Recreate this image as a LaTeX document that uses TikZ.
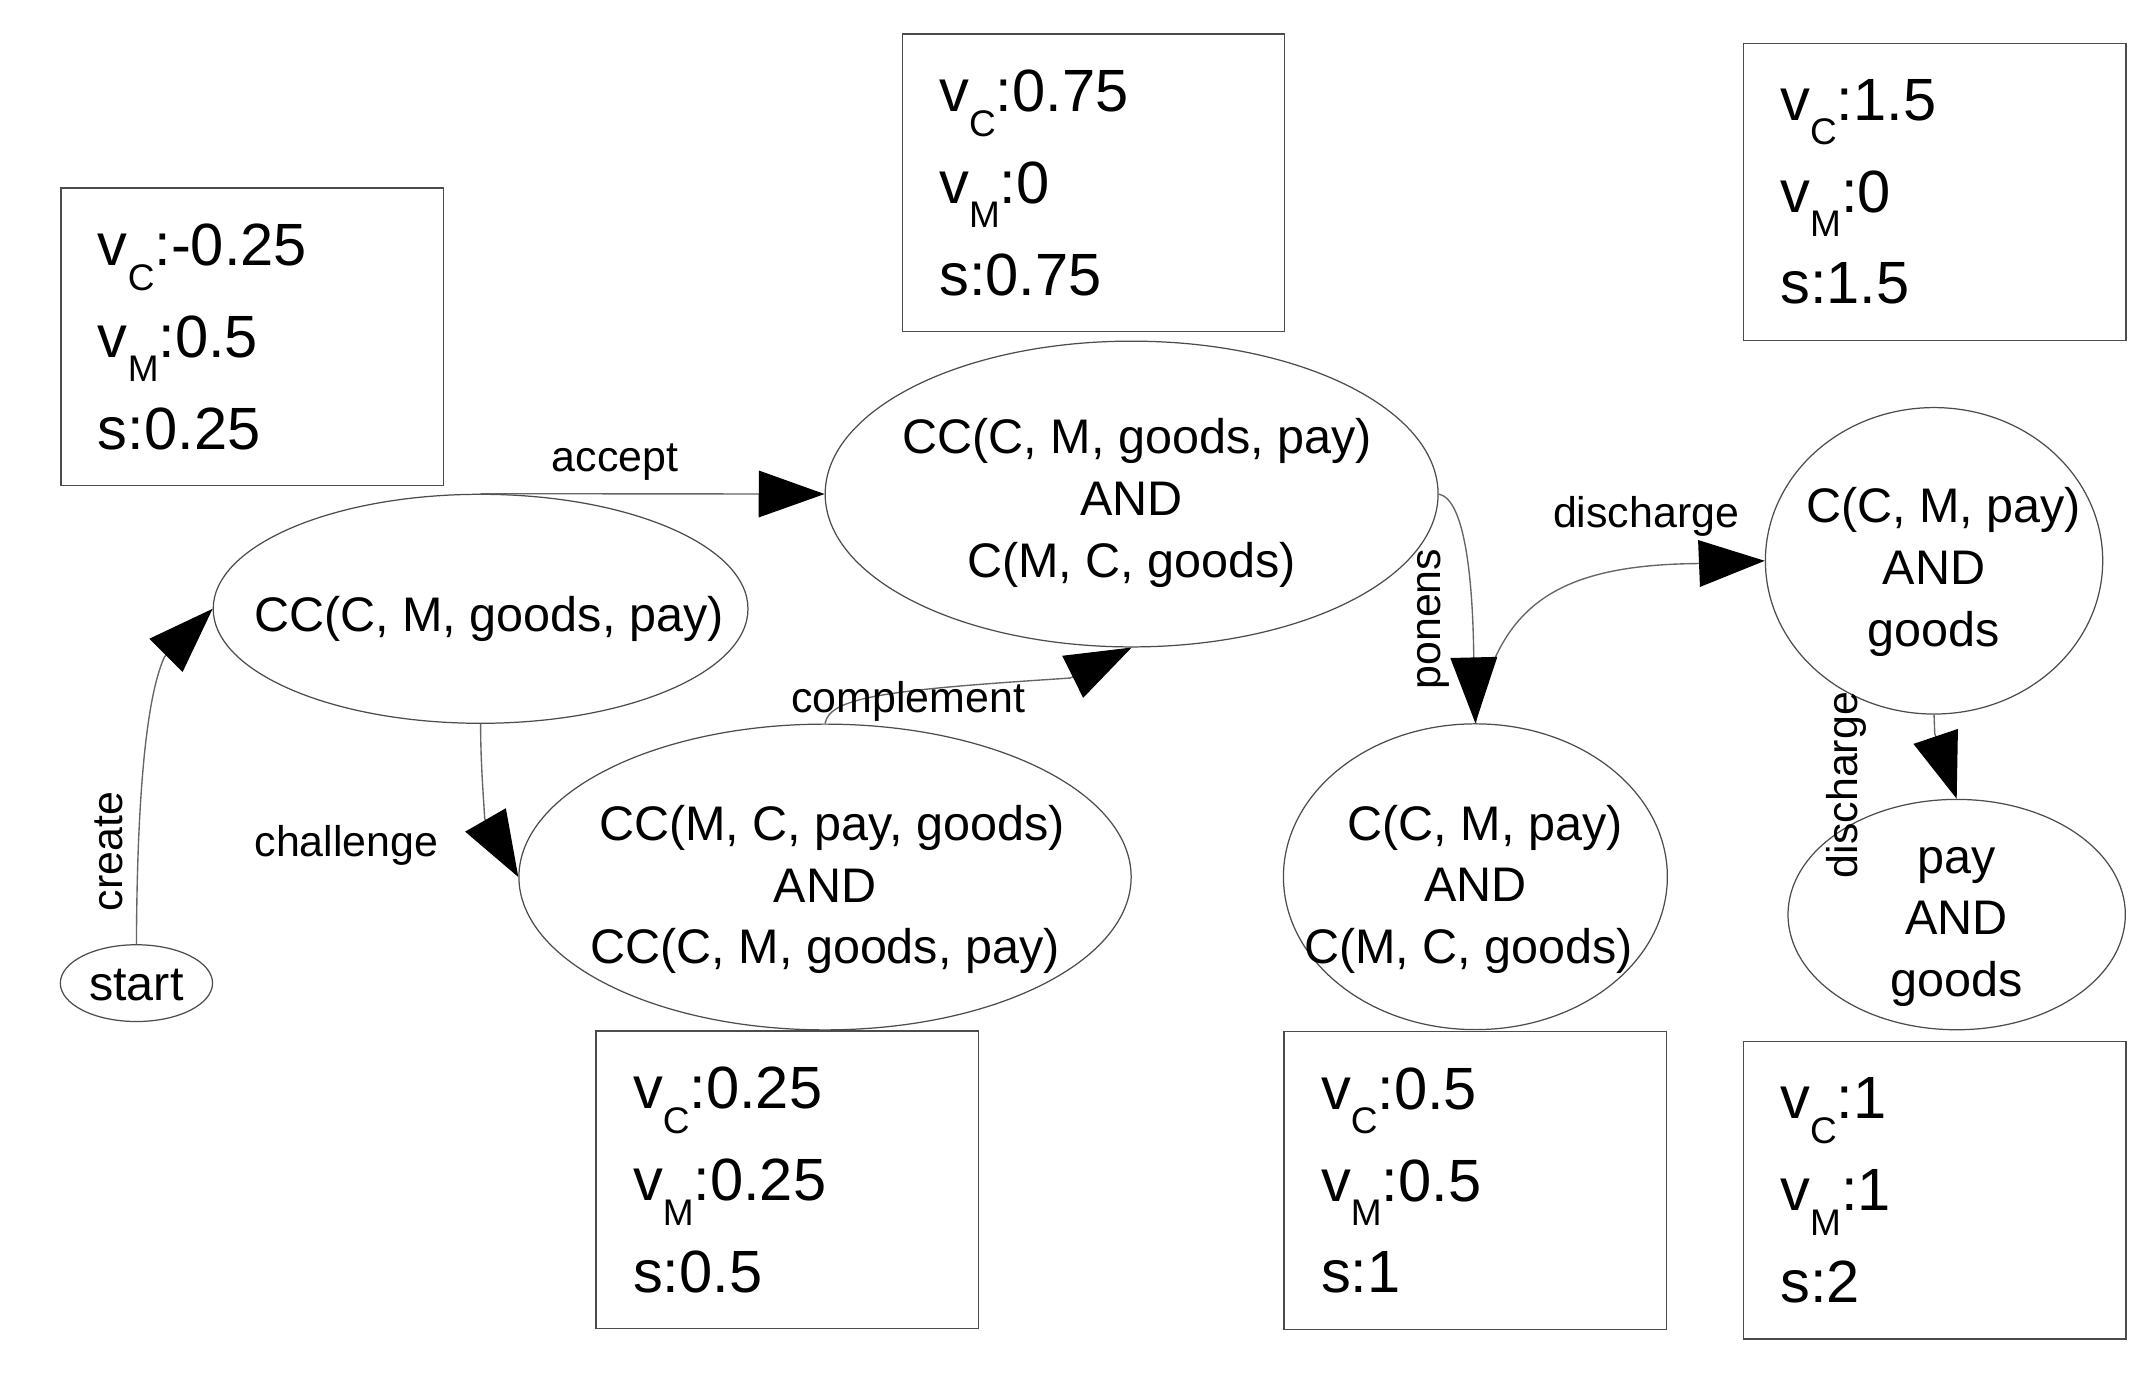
\documentclass[tikz,border=0pt]{standalone}
\usepackage{fontspec}
\setmainfont{Liberation Sans}
\usetikzlibrary{arrows.meta,shapes.geometric}
\newcommand\vsub[1]{\raisebox{-18pt}{\fontsize{27}{27}\selectfont #1}}
\newcommand\ntxt[2][-17pt]{\raisebox{#1}[0pt][0pt]{\makebox[0pt]{\begin{tabular}{@{}c@{}}#2\end{tabular}}}}
\newcommand\rsh[2]{\hspace*{#1}#2}
\newcommand\lsh[2]{#2\hspace*{#1}}
\tikzset{
  st/.style={ellipse, draw=black!70, line width=0.9pt, inner sep=0pt, font=\fontsize{35.4}{45}\selectfont},
  valbox/.style={rectangle, draw=black!70, line width=0.9pt, minimum width=279pt, minimum height=217pt, text width=225pt, inner xsep=27pt, inner ysep=0pt, align=left, anchor=north west, font=\fontsize{43.5}{67}\selectfont},
  conn/.style={draw=black!60, line width=1pt, -{Triangle[length=48pt,width=34pt,color=black]}},
  elab/.style={font=\fontsize{31.3}{36}\selectfont, inner sep=0pt, anchor=base},
}
\begin{document}
\begin{tikzpicture}[x=1pt,y=-1pt]
\useasboundingbox (0,0) rectangle (1568,1008);
% state nodes
\node[st, minimum width=111pt, minimum height=56pt] (start) at (99.5,717) {\ntxt[-10pt]{start}};
\node[st, minimum width=390pt, minimum height=167pt] (n1) at (350.5,444) {\ntxt[-13.5pt]{\rsh{12pt}{CC(C, M, goods, pay)}}};
\node[st, minimum width=447pt, minimum height=223pt] (n2) at (825.3,360.3) {\ntxt[-13pt]{\rsh{8pt}{CC(C, M, goods, pay)}\\AND\\C(M, C, goods)}};
\node[st, minimum width=446.5pt, minimum height=223pt] (n3) at (601.7,639.6) {\ntxt[-15.5pt]{\rsh{10pt}{CC(M, C, pay, goods)}\\AND\\CC(C, M, goods, pay)}};
\node[st, minimum width=280pt, minimum height=223pt] (n4) at (1076,639.4) {\ntxt[-15.5pt]{\rsh{14pt}{C(C, M, pay)}\\AND\\\lsh{10pt}{C(M, C, goods)}}};
\node[st, minimum width=246pt, minimum height=223.5pt] (n5) at (1410.5,409) {\ntxt[-14.5pt]{\rsh{14pt}{C(C, M, pay)}\\AND\\goods}};
\node[st, minimum width=246pt, minimum height=168pt] (n6) at (1427,667) {\ntxt[-12pt]{pay\\AND\\goods}};
% value boxes
\node[valbox] (b1) at (44,136.6) {v\vsub{C}:-0.25\\v\vsub{M}:0.5\\s:0.25};
\node[valbox] (b2) at (657.6,24.3) {v\vsub{C}:0.75\\v\vsub{M}:0\\s:0.75};
\node[valbox] (b3) at (1271,31) {v\vsub{C}:1.5\\v\vsub{M}:0\\s:1.5};
\node[valbox] (b4) at (434.2,751.5) {v\vsub{C}:0.25\\v\vsub{M}:0.25\\s:0.5};
\node[valbox] (b5) at (936,752) {v\vsub{C}:0.5\\v\vsub{M}:0.5\\s:1};
\node[valbox] (b6) at (1271,759) {v\vsub{C}:1\\v\vsub{M}:1\\s:2};
% connectors
\draw[conn] (start.north) .. controls (100,570) and (108,505) .. (120,479) -- (n1.west);
\draw[conn] (n1.north) -- (n2.west);
\draw[conn] (n1.south) .. controls (350.5,555) and (352.5,580) .. (353.5,597) -- (n3.west);
\draw[conn] (n3.north) .. controls (605,508) and (650,503) .. (780.5,494.5) -- (n2.south);
\draw[conn] (n4.north) .. controls (1092,445) and (1130,412) .. (1238,411) -- (n5.west);
\draw[conn] (n2.east) .. controls (1068,364) and (1074,420) .. (1074.8,478) -- (n4.north);
\draw[conn] (n5.south) -- (1411,535) -- (n6.north);
% edge labels
\node[elab] (lcreate) at (89.3,621) [rotate=90] {create};
\node[elab] (laccept) at (448.5,344) {accept};
\node[elab] (lchall) at (252.7,624.4) {challenge};
\node[elab] (lcomp) at (662.4,519.5) {complement};
\node[elab] (lponens) at (1050.3,451.5) [rotate=90] {ponens};
\node[elab] (ldis1) at (1200.5,384.5) {discharge};
\node[elab] (ldis2) at (1355,572.5) [rotate=90] {discharge};
\end{tikzpicture}
\end{document}
